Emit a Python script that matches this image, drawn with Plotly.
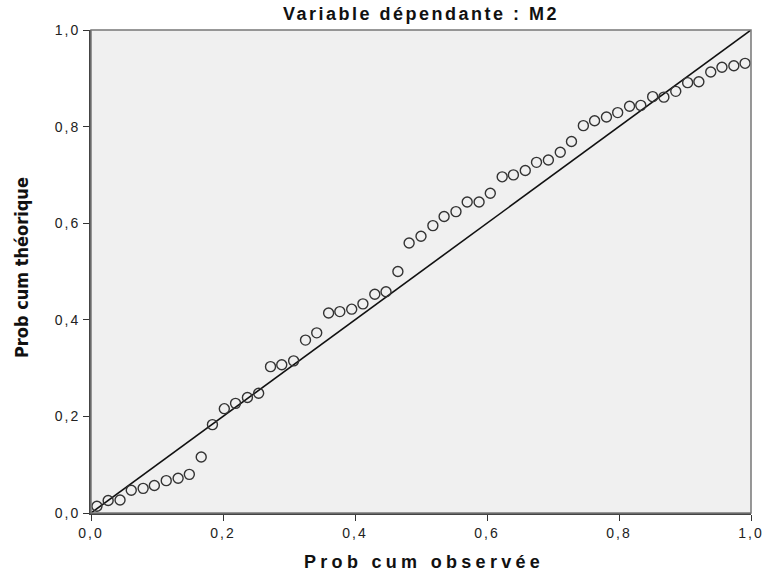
import plotly.graph_objects as go

observed = [0.009, 0.026, 0.044, 0.061, 0.079, 0.096, 0.114, 0.132, 0.149, 0.167,
            0.184, 0.202, 0.219, 0.237, 0.254, 0.272, 0.289, 0.307, 0.325, 0.342,
            0.360, 0.377, 0.395, 0.412, 0.430, 0.447, 0.465, 0.482, 0.500, 0.518,
            0.535, 0.553, 0.570, 0.588, 0.605, 0.623, 0.640, 0.658, 0.675, 0.693,
            0.711, 0.728, 0.746, 0.763, 0.781, 0.798, 0.816, 0.833, 0.851, 0.868,
            0.886, 0.904, 0.921, 0.939, 0.956, 0.974, 0.991]
theoretical = [0.014, 0.026, 0.027, 0.047, 0.051, 0.057, 0.067, 0.072, 0.080, 0.116,
               0.183, 0.216, 0.227, 0.239, 0.248, 0.303, 0.307, 0.315, 0.358, 0.373,
               0.414, 0.417, 0.422, 0.433, 0.453, 0.458, 0.500, 0.559, 0.573, 0.595,
               0.614, 0.624, 0.644, 0.644, 0.662, 0.696, 0.700, 0.709, 0.726, 0.731,
               0.747, 0.769, 0.802, 0.812, 0.820, 0.829, 0.842, 0.844, 0.862, 0.861,
               0.873, 0.891, 0.893, 0.913, 0.923, 0.926, 0.931]
ref_line = [0.0, 1.0]
tick_vals = [0.0, 0.2, 0.4, 0.6, 0.8, 1.0]
tick_labels = ["0,0", "0,2", "0,4", "0,6", "0,8", "1,0"]

SANS = "Liberation Sans, Arial, sans-serif"


def spaced(text, px):
    return f'<span style="letter-spacing:{px}px">{text}</span>'


fig = go.Figure()
fig.add_trace(go.Scatter(x=ref_line, y=ref_line, mode="lines",
                         line=dict(color="#111111", width=1.6), hoverinfo="skip"))
fig.add_trace(go.Scatter(x=observed, y=theoretical, mode="markers",
                         marker=dict(symbol="circle-open", size=10,
                                     line=dict(color="#333333", width=1.4),
                                     color="#333333")))

axis_common = dict(range=[0, 1], tickvals=tick_vals,
                   ticktext=[spaced(t, 2.0) for t in tick_labels],
                   ticks="outside", ticklen=6, tickwidth=1, tickcolor="#333333",
                   showgrid=False, zeroline=False, showline=True,
                   linecolor="#444444", linewidth=2, mirror=False,
                   automargin=False, ticklabeloverflow="allow",
                   tickfont=dict(family=SANS, size=14, color="#222222"))

fig.update_xaxes(**axis_common)
fig.update_yaxes(**axis_common)

fig.update_layout(
    width=764, height=578,
    margin=dict(l=91, r=13, t=30, b=65),
    plot_bgcolor="#f0f0f0", paper_bgcolor="white",
    showlegend=False,
    title=dict(text="<b>" + spaced("Variable dépendante : M2", 2.5) + "</b>",
               x=421 / 764, xanchor="center",
               y=1 - 14 / 578, yanchor="middle", yref="container", automargin=False,
               font=dict(family=SANS, size=18, color="#111111")),
    shapes=[dict(type="rect", xref="paper", yref="paper", x0=0, y0=0, x1=1, y1=1,
                 line=dict(color="#777777", width=1.5), fillcolor="rgba(0,0,0,0)")],
    annotations=[
        dict(text="<b>" + spaced("Prob cum observée", 4.3) + "</b>", xref="paper", yref="paper",
             x=(424 - 91) / 660, y=-(562 - 513) / 483, yanchor="middle", xanchor="center",
             showarrow=False,
             font=dict(family=SANS, size=18, color="#111111")),
        dict(text="<b>Prob cum théorique</b>", xref="paper", yref="paper",
             x=-(91 - 21) / 660, y=(513 - 268) / 483, xanchor="center", yanchor="middle",
             showarrow=False, textangle=-90,
             font=dict(family="Liberation Sans Narrow, DejaVu Sans Condensed, Arial Narrow, sans-serif",
                       size=18, color="#111111")),
    ],
)

fig.write_html("out.html", config={"displayModeBar": False},
               post_script="document.body.style.margin='0';")
